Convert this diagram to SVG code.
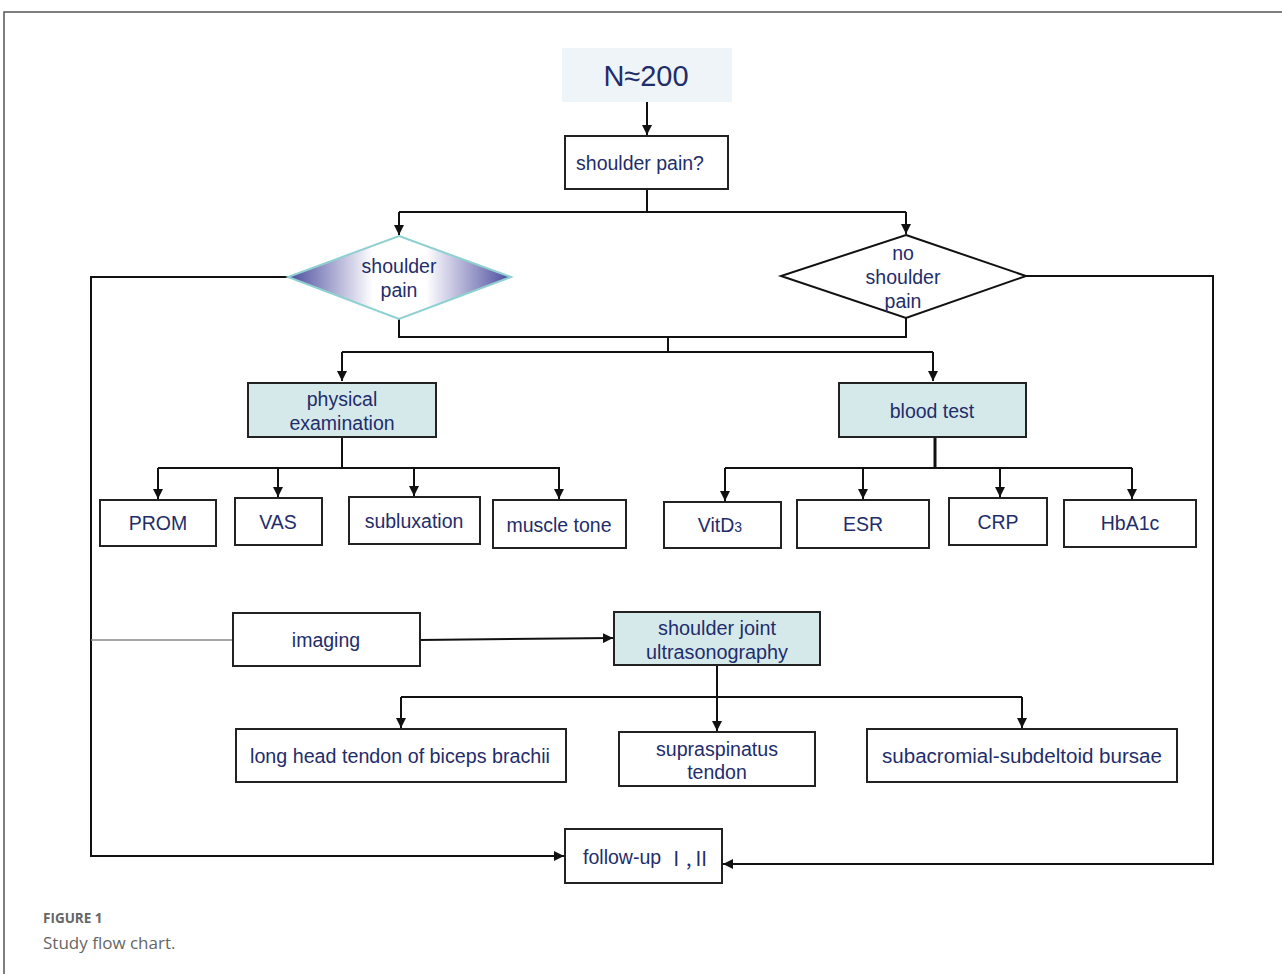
<svg xmlns="http://www.w3.org/2000/svg" width="1282" height="974" viewBox="0 0 1282 974">
<style>
.t{font-family:"Liberation Sans",Arial,sans-serif;fill:#1f2d6b;text-anchor:middle;dominant-baseline:central;font-size:19.5px}
.box{fill:#fff;stroke:#222;stroke-width:2}
.tb{fill:#d5e9ea;stroke:#222;stroke-width:2}
.ln{fill:none;stroke:#111;stroke-width:2}
.ar{fill:none;stroke:#111;stroke-width:2;marker-end:url(#ah)}
.cap{font-family:"Open Sans","Noto Sans",sans-serif;fill:#666}
</style>
<defs>
<marker id="ah" viewBox="0 0 10 10" refX="10" refY="5" markerWidth="10" markerHeight="10" markerUnits="userSpaceOnUse" orient="auto">
<path d="M0,0 L10,5 L0,10 z" fill="#111"/>
</marker>
<linearGradient id="dg" x1="0" y1="0" x2="1" y2="0">
<stop offset="0" stop-color="#4a4a9e"/>
<stop offset="0.38" stop-color="#ffffff"/>
<stop offset="0.62" stop-color="#ffffff"/>
<stop offset="1" stop-color="#4a4a9e"/>
</linearGradient>
</defs>
<rect width="1282" height="974" fill="#fff"/>
<path d="M4,974 V12 H1282" fill="none" stroke="#555" stroke-width="1.5"/>

<g id="connectors">
<path class="ar" d="M647,102 V135"/>
<path class="ln" d="M647,189 V212 M399,212 H906"/>
<path class="ar" d="M399,212 V235"/>
<path class="ar" d="M906,212 V234"/>
<path class="ln" d="M399,319 V337 H906 V318 M668,337 V352 M342,352 H933"/>
<path class="ar" d="M342,352 V381"/>
<path class="ar" d="M933,352 V381"/>
<path class="ln" d="M342,437 V468 M158,468 H560"/>
<path class="ar" d="M158,468 V499"/>
<path class="ar" d="M278,468 V497"/>
<path class="ar" d="M414,468 V496"/>
<path class="ar" d="M559,468 V499"/>
<path class="ln" d="M935,437 V468" style="stroke-width:3"/>
<path class="ln" d="M725,468 H1132"/>
<path class="ar" d="M725,468 V501"/>
<path class="ar" d="M863,468 V499"/>
<path class="ar" d="M1000,468 V497"/>
<path class="ar" d="M1132,468 V499"/>
<path class="ar" d="M288,277 H91 V856 H564"/>
<path d="M91,640 H233" fill="none" stroke="#888" stroke-width="1.5"/>
<path class="ar" d="M420,640 L613,638"/>
<path class="ln" d="M717,665 V697 M401,697 H1022"/>
<path class="ar" d="M401,697 V728"/>
<path class="ar" d="M717,697 V731"/>
<path class="ar" d="M1022,697 V728"/>
<path class="ar" d="M1026,276 H1213 V864 H723"/>
</g>

<g id="n200">
<rect x="562" y="48" width="170" height="54" fill="#eef4f8"/>
<text class="t" x="646" y="76" style="font-size:29px">N≈200</text>
</g>
<g id="shoulder-pain-q">
<rect class="box" x="565" y="136" width="163" height="53"/>
<text class="t" x="640" y="163">shoulder pain?</text>
</g>
<g id="diamond-pain">
<polygon points="399,236 511,277 399,319 288,277" fill="url(#dg)" stroke="#8fd0d0" stroke-width="2"/>
<text class="t" x="399" y="266">shoulder</text>
<text class="t" x="399" y="290">pain</text>
</g>
<g id="diamond-nopain">
<polygon points="906,235 1026,276 906,318 781,276" fill="#fff" stroke="#111" stroke-width="2"/>
<text class="t" x="903" y="253">no</text>
<text class="t" x="903" y="277">shoulder</text>
<text class="t" x="903" y="301">pain</text>
</g>
<g id="physical">
<rect class="tb" x="248" y="383" width="188" height="54"/>
<text class="t" x="342" y="399">physical</text>
<text class="t" x="342" y="423">examination</text>
</g>
<g id="blood">
<rect class="tb" x="839" y="383" width="187" height="54"/>
<text class="t" x="932" y="411">blood test</text>
</g>
<g id="prom"><rect class="box" x="100" y="500" width="116" height="46"/><text class="t" x="158" y="523">PROM</text></g>
<g id="vas"><rect class="box" x="235" y="498" width="87" height="47"/><text class="t" x="278" y="522">VAS</text></g>
<g id="subluxation"><rect class="box" x="349" y="497" width="131" height="47"/><text class="t" x="414" y="521">subluxation</text></g>
<g id="muscle"><rect class="box" x="493" y="500" width="133" height="48"/><text class="t" x="559" y="525">muscle tone</text></g>
<g id="vitd3"><rect class="box" x="664" y="502" width="117" height="46"/><text class="t" x="720" y="525">VitD<tspan style="font-size:14px" dy="2">3</tspan></text></g>
<g id="esr"><rect class="box" x="797" y="500" width="132" height="48"/><text class="t" x="863" y="524">ESR</text></g>
<g id="crp"><rect class="box" x="949" y="498" width="98" height="47"/><text class="t" x="998" y="522">CRP</text></g>
<g id="hba1c"><rect class="box" x="1064" y="500" width="132" height="47"/><text class="t" x="1130" y="523">HbA1c</text></g>
<g id="imaging"><rect class="box" x="233" y="613" width="187" height="53"/><text class="t" x="326" y="640">imaging</text></g>
<g id="ultrasound">
<rect class="tb" x="614" y="612" width="206" height="53"/>
<text class="t" x="717" y="628" textLength="118" lengthAdjust="spacingAndGlyphs">shoulder joint</text>
<text class="t" x="717" y="652" textLength="142" lengthAdjust="spacingAndGlyphs">ultrasonography</text>
</g>
<g id="longhead"><rect class="box" x="236" y="729" width="330" height="53"/><text class="t" x="400" y="756" textLength="300" lengthAdjust="spacingAndGlyphs">long head tendon of biceps brachii</text></g>
<g id="supraspinatus">
<rect class="box" x="619" y="732" width="196" height="54"/>
<text class="t" x="717" y="749" textLength="122" lengthAdjust="spacingAndGlyphs">supraspinatus</text>
<text class="t" x="717" y="772">tendon</text>
</g>
<g id="subacromial"><rect class="box" x="867" y="729" width="310" height="53"/><text class="t" x="1022" y="756" textLength="280" lengthAdjust="spacingAndGlyphs">subacromial-subdeltoid bursae</text></g>
<g id="followup"><rect class="box" x="565" y="829" width="157" height="54"/><text class="t" x="647" y="857">follow-up <tspan style="font-family:'Noto Sans CJK SC','Liberation Serif',serif">Ⅰ,Ⅱ</tspan></text></g>

<text class="cap" x="43" y="923" style="font-size:13.5px;font-weight:bold">FIGURE 1</text>
<text class="cap" x="43" y="949" style="font-size:17px">Study flow chart.</text>
</svg>
